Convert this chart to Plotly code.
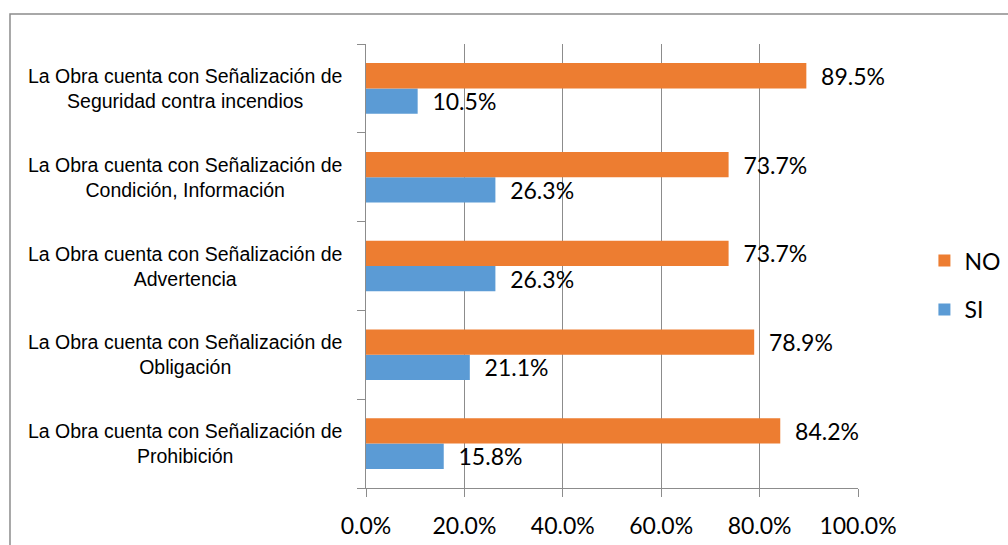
import plotly.graph_objects as go

# Categories listed bottom to top (plotly category axis draws first at bottom)
categories = [
    "La Obra cuenta con Señalización de<br>Prohibición",
    "La Obra cuenta con Señalización de<br>Obligación",
    "La Obra cuenta con Señalización de<br>Advertencia",
    "La Obra cuenta con Señalización de<br>Condición, Información",
    "La Obra cuenta con Señalización de<br>Seguridad contra incendios",
]
si_values = [0.158, 0.211, 0.263, 0.263, 0.105]
no_values = [0.842, 0.789, 0.737, 0.737, 0.895]
x_ticks = [0.0, 0.2, 0.4, 0.6, 0.8, 1.0]
x_tick_labels = ["0.0%", "20.0%", "40.0%", "60.0%", "80.0%", "100.0%"]

ORANGE = "#ED7D31"
BLUE = "#5B9BD5"
GRAY = "#8c8c8c"
NUM_FONT = "Lato, Open Sans, sans-serif"
CAT_FONT = "Liberation Sans Narrow, Arial Narrow, Liberation Sans, Arial, sans-serif"

fig = go.Figure()
fig.add_trace(go.Bar(
    y=categories, x=si_values, name="SI", orientation="h",
    marker=dict(color=BLUE, line=dict(width=0)),
    text=si_values, texttemplate="\u00a0\u00a0%{x:.1%}", textposition="outside",
    textfont=dict(family=NUM_FONT, size=23, color="#000000"),
    constraintext="none", cliponaxis=False, legendgroup="si", legendrank=2,
))
fig.add_trace(go.Bar(
    y=categories, x=no_values, name="NO", orientation="h",
    marker=dict(color=ORANGE, line=dict(width=0)),
    text=no_values, texttemplate="\u00a0\u00a0%{x:.1%}", textposition="outside",
    textfont=dict(family=NUM_FONT, size=23, color="#000000"),
    constraintext="none", cliponaxis=False, legendgroup="no", legendrank=1,
))

# Category labels as centered multi-line annotations left of the axis
for c in categories:
    fig.add_annotation(
        x=0, xref="paper", y=c, yref="y", text=c, showarrow=False,
        xanchor="right", yanchor="middle", align="center", xshift=-22,
        font=dict(family=CAT_FONT, size=19.5, color="#000000"),
    )

# Outer chart border
fig.add_shape(type="rect", xref="paper", yref="paper",
              x0=-0.7236, x1=1.5, y0=-0.3, y1=1.0676,
              line=dict(color=GRAY, width=1.5), fillcolor="rgba(0,0,0,0)", layer="below")

fig.update_layout(
    width=1008, height=545,
    margin=dict(l=366, r=150, t=44, b=57, autoexpand=False),
    paper_bgcolor="white", plot_bgcolor="white",
    barmode="group", bargap=0.43, bargroupgap=0,
    showlegend=True,
    legend=dict(x=1.135, y=0.457, xanchor="left", yanchor="middle",
                traceorder="grouped", tracegroupgap=16,
                font=dict(family=NUM_FONT, size=23, color="#000000"),
                bgcolor="rgba(0,0,0,0)"),
    xaxis=dict(range=[0, 1], tickvals=x_ticks, ticktext=x_tick_labels,
               showgrid=True, gridcolor=GRAY, gridwidth=1,
               showline=True, linecolor=GRAY, linewidth=1,
               ticks="outside", ticklen=8, tickcolor=GRAY,
               ticklabelstandoff=9, zeroline=False, automargin=False,
               tickfont=dict(family=NUM_FONT, size=23, color="#000000"),
               fixedrange=True),
    yaxis=dict(showticklabels=False, showgrid=False, showline=True,
               linecolor=GRAY, linewidth=1, ticks="outside", ticklen=8,
               tickcolor=GRAY, tickson="boundaries", automargin=False,
               fixedrange=True),
)

fig.write_html(
    "out.html",
    config={"displayModeBar": False},
    post_script="document.body.style.margin='0';document.body.style.overflow='hidden';",
)
